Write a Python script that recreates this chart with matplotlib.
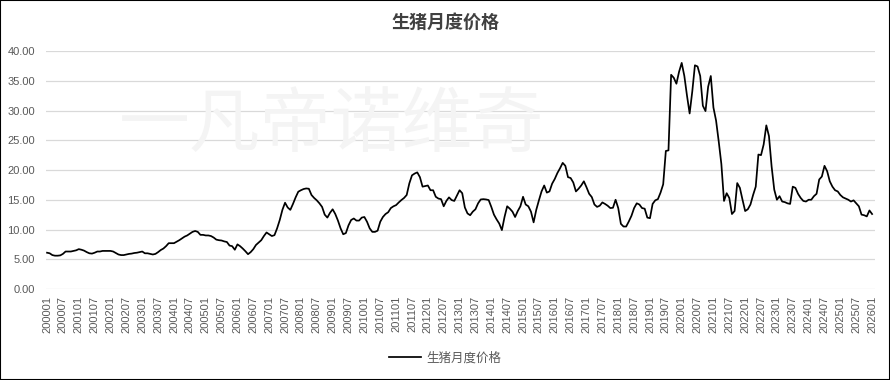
import matplotlib
matplotlib.use("Agg")
import matplotlib.pyplot as plt
from matplotlib.patches import Rectangle

plt.rcParams['font.family'] = ['Liberation Sans', 'Noto Sans CJK SC', 'DejaVu Sans']

# monthly hog price, one list per year (Jan..Dec)
p2000 = [6.1, 6.0, 5.7, 5.6, 5.6, 5.65, 5.9, 6.3, 6.3, 6.3, 6.4, 6.5]
p2001 = [6.7, 6.6, 6.45, 6.2, 6.0, 5.95, 6.1, 6.3, 6.3, 6.4, 6.4, 6.4]
p2002 = [6.4, 6.3, 6.05, 5.8, 5.7, 5.7, 5.8, 5.9, 5.95, 6.05, 6.1, 6.2]
p2003 = [6.3, 6.0, 6.0, 5.9, 5.8, 5.9, 6.2, 6.55, 6.8, 7.2, 7.7, 7.7]
p2004 = [7.7, 7.95, 8.2, 8.5, 8.8, 9.0, 9.3, 9.6, 9.75, 9.6, 9.1, 9.1]
p2005 = [9.0, 9.0, 8.9, 8.65, 8.3, 8.2, 8.15, 8.0, 7.9, 7.3, 7.2, 6.6]
p2006 = [7.5, 7.2, 6.8, 6.35, 5.85, 6.2, 6.7, 7.4, 7.8, 8.2, 8.9, 9.5]
p2007 = [9.2, 8.9, 9.05, 10.2, 11.6, 13.3, 14.5, 13.7, 13.3, 14.3, 15.4, 16.35]
p2008 = [16.6, 16.8, 16.9, 16.85, 15.8, 15.3, 14.9, 14.4, 13.8, 12.5, 12.0, 12.8]
p2009 = [13.4, 12.6, 11.5, 10.2, 9.2, 9.4, 10.7, 11.6, 11.85, 11.5, 11.5, 12.0]
p2010 = [12.1, 11.3, 10.2, 9.6, 9.6, 9.8, 11.3, 12.1, 12.6, 12.9, 13.6, 13.9]
p2011 = [14.1, 14.55, 14.95, 15.3, 15.8, 17.75, 19.1, 19.4, 19.6, 18.8, 17.2, 17.3]
p2012 = [17.4, 16.6, 16.6, 15.5, 15.2, 15.1, 13.9, 14.8, 15.4, 14.95, 14.8, 15.7]
p2013 = [16.6, 16.1, 13.7, 12.7, 12.4, 13.0, 13.4, 14.4, 15.05, 15.1, 15.05, 14.95]
p2014 = [13.8, 12.5, 11.7, 11.0, 9.9, 12.1, 13.9, 13.5, 13.0, 12.1, 13.1, 13.9]
p2015 = [15.5, 14.2, 13.9, 13.0, 11.2, 13.3, 14.9, 16.4, 17.4, 16.2, 16.4, 17.7]
p2016 = [18.5, 19.5, 20.3, 21.2, 20.7, 18.8, 18.65, 17.9, 16.4, 16.85, 17.4, 18.1]
p2017 = [17.1, 16.0, 15.45, 14.2, 13.8, 14.0, 14.55, 14.3, 14.0, 13.6, 13.65, 15.0]
p2018 = [13.6, 10.95, 10.5, 10.5, 11.35, 12.3, 13.6, 14.4, 14.2, 13.6, 13.5, 12.0]
p2019 = [11.9, 14.3, 14.9, 15.1, 16.2, 17.6, 23.2, 23.3, 36.0, 35.5, 34.5, 36.5]
p2020 = [38.0, 35.8, 32.5, 29.5, 33.2, 37.6, 37.4, 35.8, 30.8, 29.9, 34.0, 35.8]
p2021 = [30.5, 28.3, 24.8, 21.0, 14.8, 16.1, 15.3, 12.6, 13.1, 17.8, 17.0, 15.0]
p2022 = [13.1, 13.4, 14.2, 15.8, 17.2, 22.6, 22.5, 24.3, 27.5, 25.7, 20.6, 16.7]
p2023 = [15.0, 15.6, 14.7, 14.6, 14.4, 14.3, 17.2, 17.0, 16.0, 15.3, 14.8, 14.7]
p2024 = [15.0, 15.0, 15.6, 16.0, 18.4, 18.9, 20.7, 19.8, 18.1, 17.2, 16.6, 16.4]
p2025 = [15.8, 15.4, 15.2, 15.0, 14.7, 14.9, 14.4, 13.9, 12.5, 12.4, 12.2, 13.2]
p2026 = [12.6]

years = [p2000, p2001, p2002, p2003, p2004, p2005, p2006, p2007, p2008,
         p2009, p2010, p2011, p2012, p2013, p2014, p2015, p2016, p2017,
         p2018, p2019, p2020, p2021, p2022, p2023, p2024, p2025, p2026]

prices = []
months = []
for k, vals in enumerate(years):
    for m, v in enumerate(vals):
        prices.append(v)
        months.append("%d%02d" % (2000 + k, m + 1))

title = "生猪月度价格"
series_name = "生猪月度价格"
watermark = "一凡帝诺维奇"

fig = plt.figure(figsize=(8.9, 3.8), dpi=100)
ax = fig.add_axes([46 / 890, 1 - 289 / 380, 829 / 890, 238 / 380])

# faint watermark behind the line
fig.text(0.373, 0.67, watermark, fontsize=51, color='#f4f4f4',
         ha='center', va='center', zorder=0, family='Noto Sans CJK SC')
ax.patch.set_alpha(0)

x = list(range(len(prices)))
ax.plot(x, prices, color='black', linewidth=1.25, label=series_name, zorder=3)

ax.set_ylim(0, 40)
ax.set_yticks(range(0, 41, 5))
ax.set_yticklabels(["%.2f" % v for v in range(0, 41, 5)])
ax.set_xlim(-0.4, len(prices) - 1 + 1.1)
ticks = x[::6]
ax.set_xticks(ticks)
ax.set_xticklabels([months[i] for i in ticks], rotation=90)

ax.grid(axis='y', color='#d9d9d9', linewidth=0.9)
ax.set_axisbelow(True)
for s in ax.spines.values():
    s.set_visible(False)
ax.tick_params(axis='both', length=0, labelsize=8, colors='#595959')
ax.tick_params(axis='y', pad=8)
ax.tick_params(axis='x', pad=5)

fig.text(0.5, 1 - 22 / 380, title, ha='center', va='center', fontsize=13,
         fontweight='bold', color='#404040', family='Noto Sans CJK SC')

leg = fig.legend(loc='center', bbox_to_anchor=(0.5, 1 - 358 / 380), frameon=False,
                 handlelength=2.6, handletextpad=0.4,
                 prop={'family': 'Noto Sans CJK SC', 'size': 9})
for t in leg.get_texts():
    t.set_color('#595959')

fig.patches.append(Rectangle((0, 0), 1, 1, transform=fig.transFigure, fill=False,
                             edgecolor='black', linewidth=1.5))

fig.savefig("out.png", dpi=100)
